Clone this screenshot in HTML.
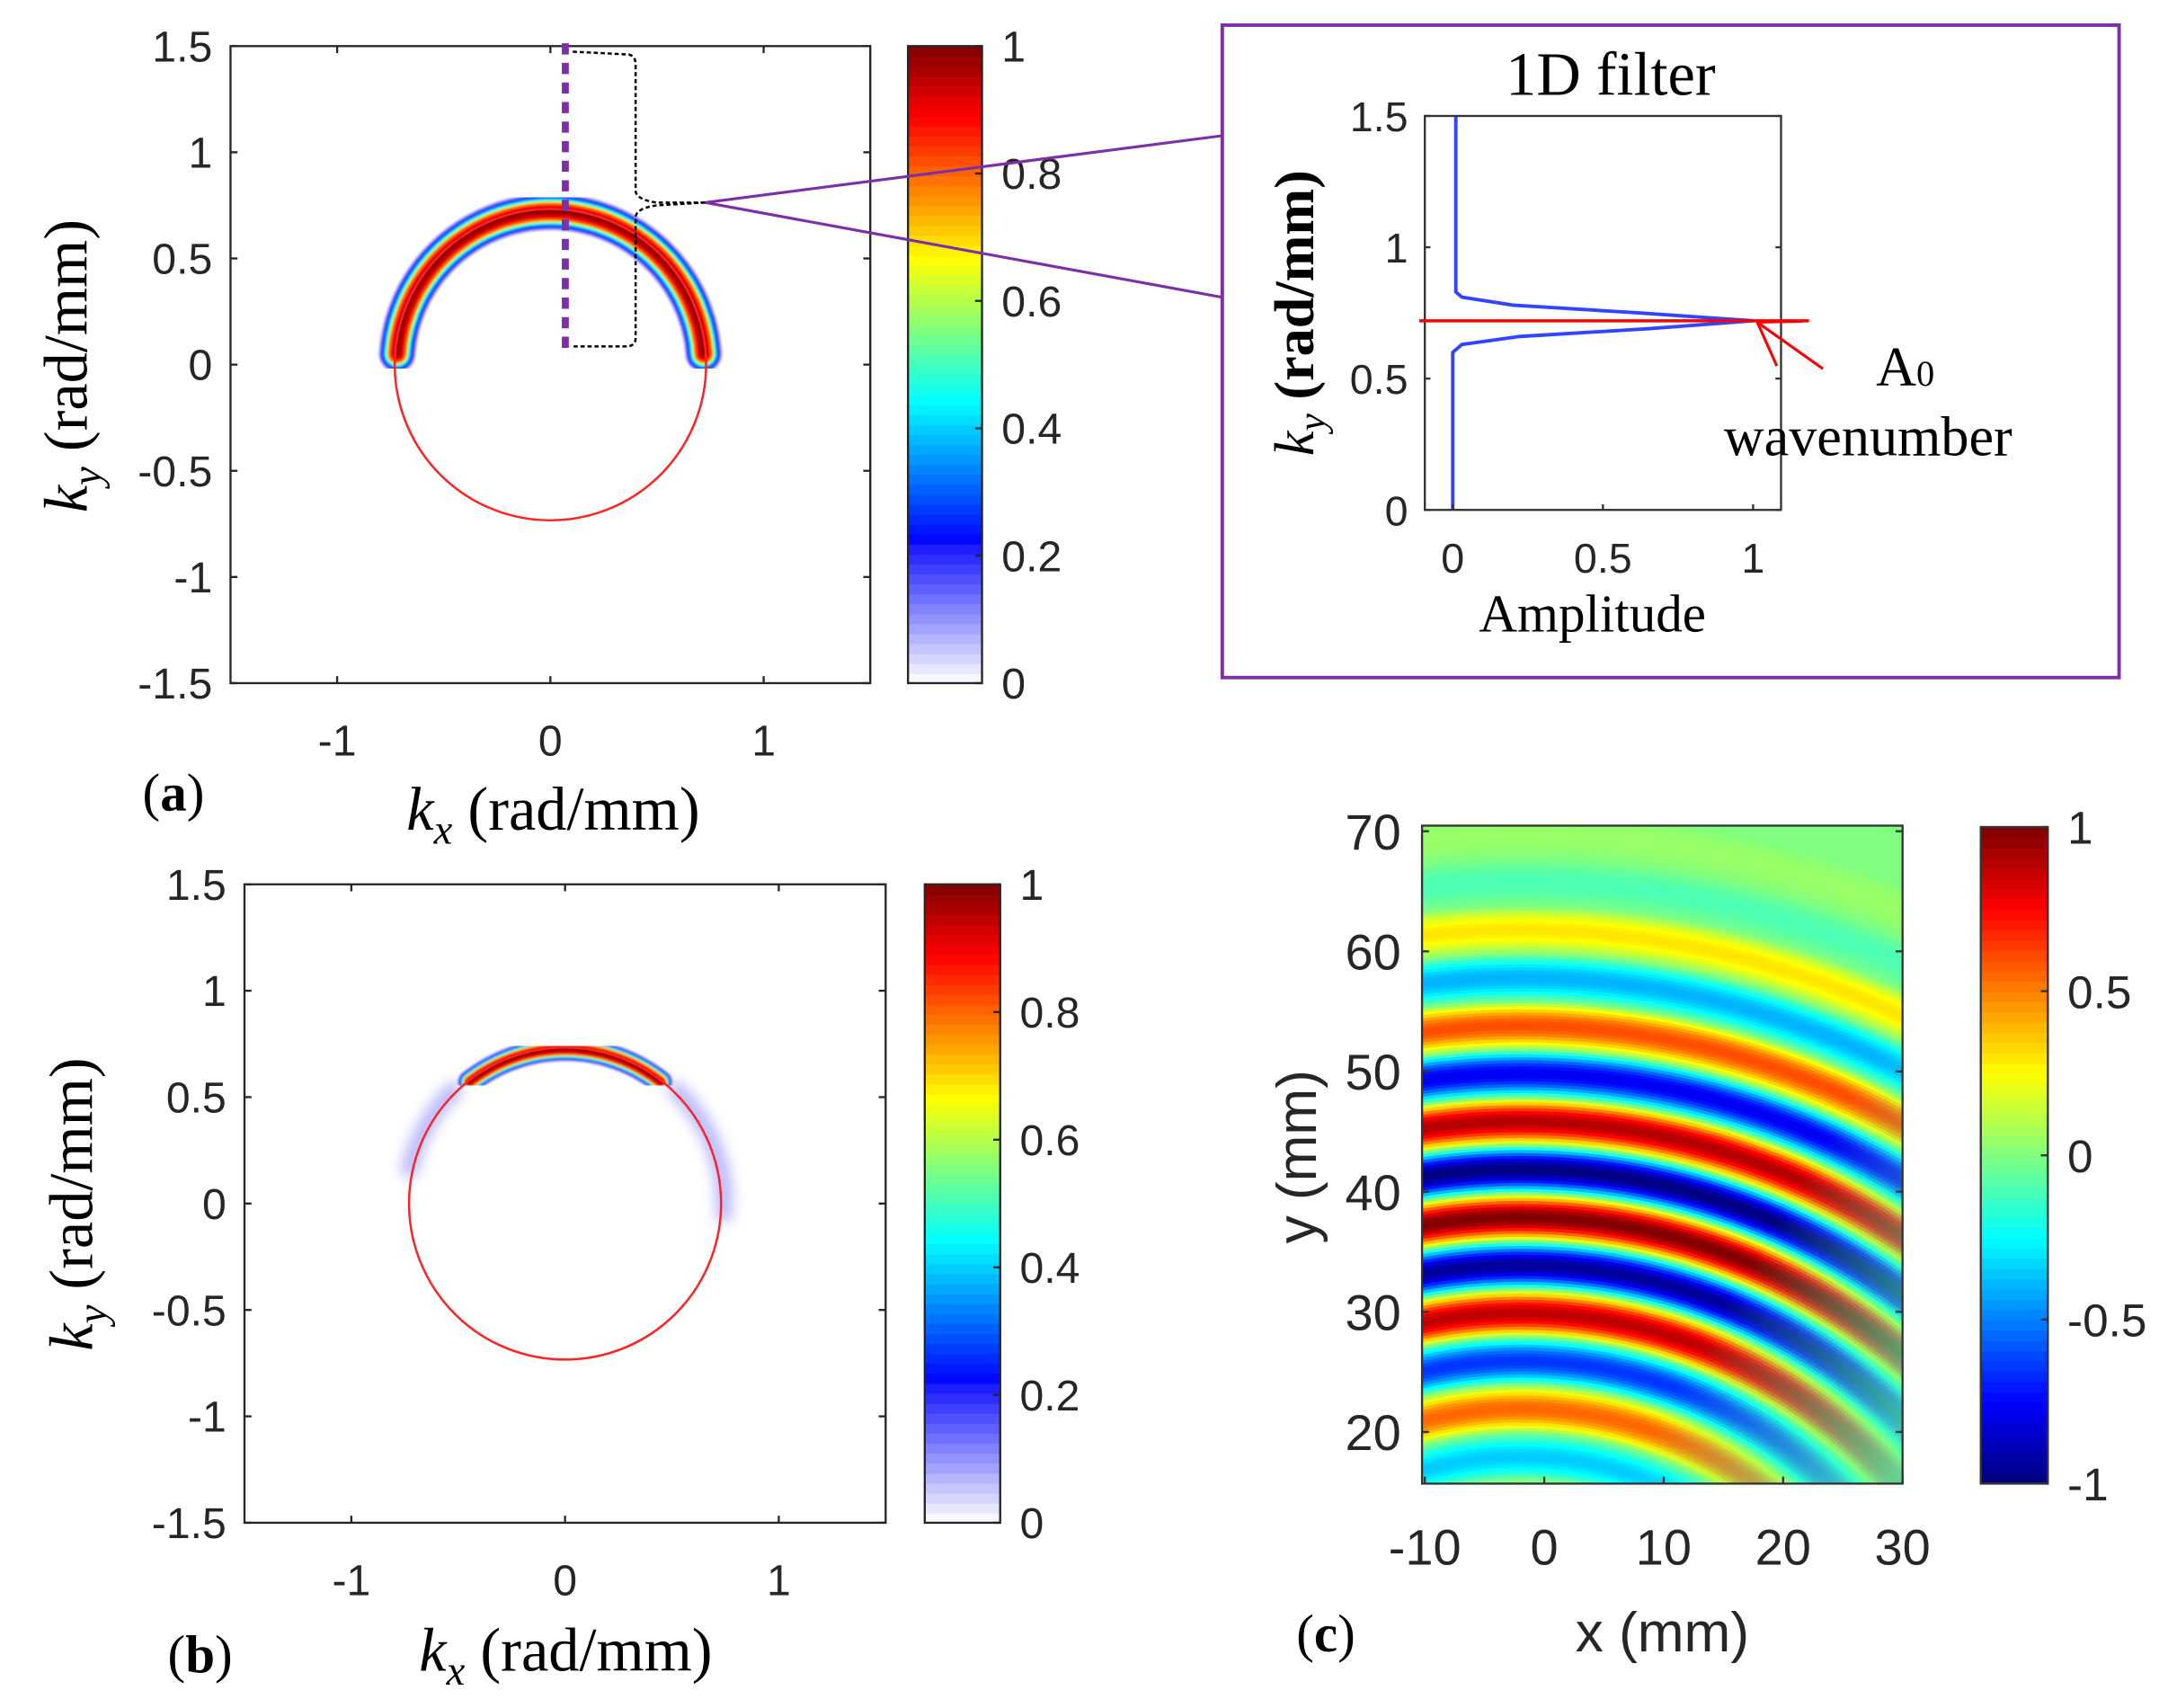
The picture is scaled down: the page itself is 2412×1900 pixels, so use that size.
<!DOCTYPE html>
<html><head><meta charset="utf-8">
<style>
html,body{margin:0;padding:0;background:#fff;overflow:hidden;width:2412px;height:1900px;}
svg{display:block;}
.tk{font-family:"Liberation Sans",sans-serif;fill:#262626;}
.sf{font-family:"Liberation Serif",serif;fill:#000;}
</style></head>
<body>
<svg id="fig" xmlns="http://www.w3.org/2000/svg" width="2412" height="1900" viewBox="0 0 1552 1222.6">
<defs>
  <filter id="blurS"><feGaussianBlur stdDeviation="0.8"/></filter>
  <filter id="blurB"><feGaussianBlur stdDeviation="5"/></filter>
  <clipPath id="clipC"><rect x="1018" y="591" width="344" height="471"/></clipPath>
  <linearGradient id="fadeBR" x1="0.45" y1="0.55" x2="1" y2="1">
    <stop offset="0.35" stop-color="rgb(80,255,175)" stop-opacity="0"/>
    <stop offset="1" stop-color="rgb(80,255,175)" stop-opacity="0.85"/>
  </linearGradient>
</defs>
<g id="root"></g>
</svg>
<script>
// ---------- data ----------
const kTicks = [-1.5,-1,-0.5,0,0.5,1,1.5];
const kTickLabels = ["-1.5","-1","-0.5","0","0.5","1","1.5"];
const kxTicks = [-1,0,1];
const cbTicks = [0,0.2,0.4,0.6,0.8,1];
const cbTickLabels = ["0","0.2","0.4","0.6","0.8","1"];
const a0Radius = 0.73;
const arcA = {r:0.72, a0:4, a1:176, scale:1.0};
const arcB = {r:0.725, a0:52, a1:128, scale:0.65};
// half-width of band (rad/mm) at which amplitude equals bandValue
const bandOffset = [0.0,0.01,0.025,0.04,0.055,0.07,0.085];
const bandValue  = [1.0,0.96,0.9,0.78,0.45,0.22,0.08];
const smudgeB = [[18,48],[132,170],[-6,22]];
const filterKy  = [0, 0.60, 0.63, 0.66, 0.69, 0.72, 0.75, 0.78, 0.81, 0.83, 1.5];
const filterAmp = [0, 0.00, 0.03, 0.22, 0.65, 1.00, 0.62, 0.20, 0.03, 0.01, 0.01];
const filterPeak = 0.72;
const inYTicks = [0,0.5,1,1.5];
const inYLabels = ["0","0.5","1","1.5"];
const inXTicks = [0,0.5,1];
const inXLabels = ["0","0.5","1"];
const cXTicks = [-10,0,10,20,30];
const cYTicks = [20,30,40,50,60,70];
const cCbTicks = [-1,-0.5,0,0.5,1];
const cCbLabels = ["-1","-0.5","0","0.5","1"];
const ringY     = [12,14,16,18,20,22,24,26,28,30,32,34,36,38,40,42,44,46,48,50,52,54,56,58,60,62,64,66,68,70,72,76];
const ringValue = [0.0,0.15,0.0,-0.35,0.0,0.55,0.0,-0.65,0.0,0.88,0.0,-0.95,0.0,1.0,0.0,-1.0,0.0,0.9,0.0,-0.78,0.0,0.6,0.0,-0.4,0.0,0.3,0.0,-0.1,0.0,0.05,0.0,0.0];
const source = [-2,-12];

// ---------- helpers ----------
const NS="http://www.w3.org/2000/svg";
const root=document.getElementById('root');
function mk(tag,attrs,parent){const e=document.createElementNS(NS,tag);for(const k in attrs)e.setAttribute(k,attrs[k]);(parent||root).appendChild(e);return e;}
function jet(v){
  function c(x){return Math.max(0,Math.min(1,x));}
  const r=c(1.5-Math.abs(4*v-3)), g=c(1.5-Math.abs(4*v-2)), b=c(1.5-Math.abs(4*v-1));
  return `rgb(${Math.round(r*255)},${Math.round(g*255)},${Math.round(b*255)})`;
}
function jetW(v){
  if(v<0.22){const t=v/0.22;const r=Math.round(255-(255-20)*t),g=Math.round(255-(255-20)*t);return `rgb(${r},${g},255)`;}
  return jet(0.125+(v-0.22)/(0.78)*0.875);
}
function interp(xs,ys,x,sharp){
  if(x<=xs[0])return ys[0]; if(x>=xs[xs.length-1])return ys[ys.length-1];
  for(let i=1;i<xs.length;i++) if(x<=xs[i]){
    const a=ys[i-1],b=ys[i];const t=(x-xs[i-1])/(xs[i]-xs[i-1]);
    if(sharp){
      if(a===0) return b*Math.sin(t*Math.PI/2);
      if(b===0) return a*Math.cos(t*Math.PI/2);
    }
    const s=(1-Math.cos(Math.PI*t))/2;return a+(b-a)*s;}
}

function kPanel(name,x0,y0,w,h,cbx,cbw,drawFn){
  const g=mk('g',{});
  
  
  const sx=v=>x0+(v+1.5)/3*w, sy=v=>y0+h-(v+1.5)/3*h;
  const s=w/3;
  drawFn(g,sx,sy,s);
  const box=mk('rect',{x:x0,y:y0,width:w,height:h,fill:'none',stroke:'#262626','stroke-width':1.5},g);
  
  
  kTicks.forEach((v,i)=>{
    mk('line',{x1:x0,x2:x0+5,y1:sy(v),y2:sy(v),stroke:'#262626','stroke-width':1.5},g);
    mk('line',{x1:x0+w,x2:x0+w-5,y1:sy(v),y2:sy(v),stroke:'#262626','stroke-width':1.5},g);
    const t=mk('text',{x:x0-13,y:sy(v)+11,'text-anchor':'end','font-size':31,class:'tk'},g);
    t.textContent=kTickLabels[i];
    
    
  });
  kxTicks.forEach(v=>{
    mk('line',{x1:sx(v),x2:sx(v),y1:y0+h,y2:y0+h-5,stroke:'#262626','stroke-width':1.5},g);
    mk('line',{x1:sx(v),x2:sx(v),y1:y0,y2:y0+5,stroke:'#262626','stroke-width':1.5},g);
    const t=mk('text',{x:sx(v),y:y0+h+52,'text-anchor':'middle','font-size':31,class:'tk'},g);
    t.textContent=String(v);
    
    
  });
  const cb=mk('g',{},g);
  
  
  const N=64;
  for(let i=0;i<N;i++){
    mk('rect',{x:cbx,y:y0+h-(i+1)*h/N,width:cbw,height:h/N+0.6,fill:jetW((i+0.5)/N)},cb);
  }
  mk('rect',{x:cbx,y:y0,width:cbw,height:h,fill:'none',stroke:'#262626','stroke-width':1.5},cb);
  cbTicks.forEach((v,i)=>{
    const yy=y0+h-v*h;
    mk('line',{x1:cbx+cbw,x2:cbx+cbw-5,y1:yy,y2:yy,stroke:'#262626','stroke-width':1.5},cb);
    const t=mk('text',{x:cbx+cbw+14,y:yy+11,'font-size':31,class:'tk'},cb);
    t.textContent=cbTickLabels[i];
    
    
  });
  return {g,sx,sy,s};
}
function arcPath(sx,sy,r,a0,a1){
  const p=[];for(let a=a0;a<=a1+0.01;a+=1){const t=a*Math.PI/180;p.push((p.length?'L':'M')+sx(r*Math.cos(t)).toFixed(1)+','+sy(r*Math.sin(t)).toFixed(1));}
  return p.join(' ');
}
function band(g,sx,sy,s,arc){
  const bg=mk('g',{filter:'url(#blurS)'},g);
  
  
  const hi=bandOffset[bandOffset.length-1];
  const step=0.003;
  const d=arcPath(sx,sy,arc.r,arc.a0,arc.a1);
  for(let o=hi;o>=0;o-=step){
    const v=interp(bandOffset,bandValue,o);
    mk('path',{d:d,fill:'none',stroke:jetW(v),'stroke-width':(2*o+0.003)*arc.scale*s,'stroke-linecap':'round'},bg);
  }
}

kPanel('panel-a-kspace',165,33,458,456,650,53,(g,sx,sy,s)=>{
  band(g,sx,sy,s,arcA);
  const c=mk('circle',{cx:sx(0),cy:sy(0),r:a0Radius*s,fill:'none',stroke:'#f22','stroke-width':1.6},g);
  
  
});
kPanel('panel-b-kspace',175,633,459,457,662,54,(g,sx,sy,s)=>{
  const sm=mk('g',{filter:'url(#blurB)',opacity:0.45},g);
  smudgeB.forEach(([a0,a1])=>mk('path',{d:arcPath(sx,sy,a0Radius+0.015,a0,a1),fill:'none',stroke:'#55f','stroke-width':11},sm));
  band(g,sx,sy,s,arcB);
  const c=mk('circle',{cx:sx(0),cy:sy(0),r:a0Radius*s,fill:'none',stroke:'#f22','stroke-width':1.6},g);
  
  
});

(function(){
  const sx=v=>165+(v+1.5)/3*458;
  const l=mk('line',{x1:sx(0.07),x2:sx(0.07),y1:31,y2:250,stroke:'#7b2fa8','stroke-width':5,'stroke-dasharray':'8,6'});
  
  
  const b=mk('path',{d:'M410,37 L450,39 Q455,40 455,46 L455,137 Q456,143 470,145 L505,145 M505,145 L470,147 Q456,149 455,155 L455,242 Q455,248 448,248 L410,248',fill:'none',stroke:'#000','stroke-width':1.6,'stroke-dasharray':'3,2'});
  
  
  const p1=mk('line',{x1:505,y1:145,x2:876,y2:97,stroke:'#7b2fa8','stroke-width':2});
  
  
  const p2=mk('line',{x1:505,y1:145,x2:876,y2:213,stroke:'#7b2fa8','stroke-width':2});
  
  
})();

(function(){
  const g=mk('g',{});
  
  
  mk('rect',{x:875,y:18,width:642,height:467,fill:'#fff',stroke:'#7b2fa8','stroke-width':2.5},g);
  const x0=1020,x1=1275,y0=83,y1=365;
  const sx=v=>1040+v*215, sy=v=>y1-v/1.5*(y1-y0);
  const path=filterKy.map((k,i)=>(i?'L':'M')+sx(filterAmp[i]).toFixed(1)+','+sy(k).toFixed(1)).join(' ');
  const ln=mk('path',{d:path,fill:'none',stroke:'#3344ff','stroke-width':2.5,'stroke-linejoin':'round'},g);
  
  
  mk('rect',{x:x0,y:y0,width:x1-x0,height:y1-y0,fill:'none',stroke:'#333','stroke-width':1.5},g);
  inYTicks.forEach((v,i)=>{
    mk('line',{x1:x0,x2:x0+4,y1:sy(v),y2:sy(v),stroke:'#333','stroke-width':1.5},g);
    mk('line',{x1:x1,x2:x1-4,y1:sy(v),y2:sy(v),stroke:'#333','stroke-width':1.5},g);
    const t=mk('text',{x:1008,y:sy(v)+11,'text-anchor':'end','font-size':30,class:'tk'},g);
    t.textContent=inYLabels[i];
    
    
  });
  inXTicks.forEach((v,i)=>{
    mk('line',{x1:sx(v),x2:sx(v),y1:y1,y2:y1-4,stroke:'#333','stroke-width':1.5},g);
    const t=mk('text',{x:sx(v),y:410,'text-anchor':'middle','font-size':30,class:'tk'},g);
    t.textContent=inXLabels[i];
    
    
  });
  const rl=mk('line',{x1:1016,x2:1295,y1:sy(filterPeak),y2:sy(filterPeak),stroke:'#f00','stroke-width':2.2},g);
  
  
  const tip=[sx(1)+3,sy(filterPeak)+1];
  const ar=mk('path',{d:`M1305,264 L${tip[0]},${tip[1]} M1272,262 L${tip[0]},${tip[1]} L1290,230`,fill:'none',stroke:'#f00','stroke-width':2},g);
  
  
  const tt=mk('text',{x:1153,y:68,'text-anchor':'middle','font-size':44,class:'sf'},g);
  tt.textContent='1D filter';
  
  
  const a0=mk('text',{x:1343,y:276,'font-size':40,class:'sf'},g);
  a0.innerHTML='A<tspan font-size="26">0</tspan>';
  
  
  const wn=mk('text',{x:1234,y:326,'font-size':40,class:'sf'},g);
  wn.textContent='wavenumber';
  
  
  const am=mk('text',{x:1140,y:452,'text-anchor':'middle','font-size':38,class:'sf'},g);
  am.textContent='Amplitude';
  
  
  const ky=mk('text',{transform:'translate(940,224) rotate(-90)','text-anchor':'middle','font-size':40,class:'sf'},g);
  ky.innerHTML='<tspan font-style="italic">k<tspan font-size="28" dy="8">y</tspan></tspan><tspan dy="-8"> </tspan><tspan font-weight="bold">(rad/mm)</tspan>';
  
  
})();

function kTitles(prefix,kyx,kyy,kxx,kxy,labx,laby,lab){
  const ky=mk('text',{transform:`translate(${kyx},${kyy}) rotate(-90)`,'text-anchor':'middle','font-size':44,class:'sf'});
  ky.innerHTML='<tspan font-style="italic">k<tspan font-size="30" dy="10">y</tspan></tspan><tspan dy="-10"> (rad/mm)</tspan>';
  
  
  const kx=mk('text',{x:kxx,y:kxy,'text-anchor':'middle','font-size':44,class:'sf'});
  kx.innerHTML='<tspan font-style="italic">k<tspan font-size="30" dy="10">x</tspan></tspan><tspan dy="-10"> (rad/mm)</tspan>';
  
  
  const pl=mk('text',{x:labx,y:laby,'font-size':38,class:'sf'});
  pl.innerHTML='(<tspan font-weight="bold">'+lab+'</tspan>)';
  
  
}
kTitles('panel-a',62,262,396,594,102,580,'a');
kTitles('panel-b',66,862,405,1196,120,1197,'b');

(function(){
  const g=mk('g',{});
  
  
  const x0=1018,x1=1362,y0=591,y1=1062;
  const sx=v=>1020+(v+10)*8.55, sy=v=>1025-(v-20)*8.6;
  const k=8.57;
  const field=mk('g',{'clip-path':'url(#clipC)'},g);
  mk('rect',{x:x0,y:y0,width:x1-x0,height:y1-y0,fill:jet(0.5)},field);
  const rg=mk('g',{},field);
  
  
  const yMin=ringY[0], yMax=ringY[ringY.length-1], step=0.25;
  for(let y=yMax;y>=yMin;y-=step){
    const v=interp(ringY,ringValue,y,true);
    const r=y-source[1];
    mk('circle',{cx:sx(source[0]),cy:sy(source[1]),r:r*k,fill:'none',stroke:jet((v+1)/2),'stroke-width':step*k+0.6},rg);
  }
  mk('rect',{x:x0,y:y0,width:x1-x0,height:y1-y0,fill:'url(#fadeBR)'},field);
  mk('rect',{x:x0,y:y0,width:x1-x0,height:y1-y0,fill:'none',stroke:'#333','stroke-width':1.5},g);
  cXTicks.forEach(v=>{
    mk('line',{x1:sx(v),x2:sx(v),y1:y1,y2:y1-5,stroke:'#333','stroke-width':1.5},g);
    const t=mk('text',{x:sx(v),y:1120,'text-anchor':'middle','font-size':36,class:'tk'},g);
    t.textContent=String(v);
    
    
  });
  cYTicks.forEach(v=>{
    mk('line',{x1:x0,x2:x0+5,y1:sy(v),y2:sy(v),stroke:'#333','stroke-width':1.5},g);
    mk('line',{x1:x1,x2:x1-5,y1:sy(v),y2:sy(v),stroke:'#333','stroke-width':1.5},g);
    const t=mk('text',{x:1003,y:sy(v)+13,'text-anchor':'end','font-size':36,class:'tk'},g);
    t.textContent=String(v);
    
    
  });
  const cb=mk('g',{},g);
  
  
  const cbx=1418,cbw=48,cy0=592,cy1=1062,N=64;
  for(let i=0;i<N;i++) mk('rect',{x:cbx,y:cy1-(i+1)*(cy1-cy0)/N,width:cbw,height:(cy1-cy0)/N+0.6,fill:jet((i+0.5)/N)},cb);
  mk('rect',{x:cbx,y:cy0,width:cbw,height:cy1-cy0,fill:'none',stroke:'#333','stroke-width':1.5},cb);
  cCbTicks.forEach((v,i)=>{
    const yy=cy1-(v+1)/2*(cy1-cy0);
    mk('line',{x1:cbx+cbw,x2:cbx+cbw-5,y1:yy,y2:yy,stroke:'#333','stroke-width':1.5},cb);
    const t=mk('text',{x:cbx+cbw+14,y:yy+12,'font-size':33,class:'tk'},cb);
    t.textContent=cCbLabels[i];
    
    
  });
  const yt=mk('text',{transform:'translate(942,828) rotate(-90)','text-anchor':'middle','font-size':40,class:'tk'},g);
  yt.textContent='y (mm)';
  
  
  const xt=mk('text',{x:1190,y:1182,'text-anchor':'middle','font-size':40,class:'tk'},g);
  xt.textContent='x (mm)';
  
  
  const pl=mk('text',{x:928,y:1182,'font-size':38,class:'sf'},g);
  pl.innerHTML='(<tspan font-weight="bold">c</tspan>)';
  
  
})();
</script>
</body></html>
